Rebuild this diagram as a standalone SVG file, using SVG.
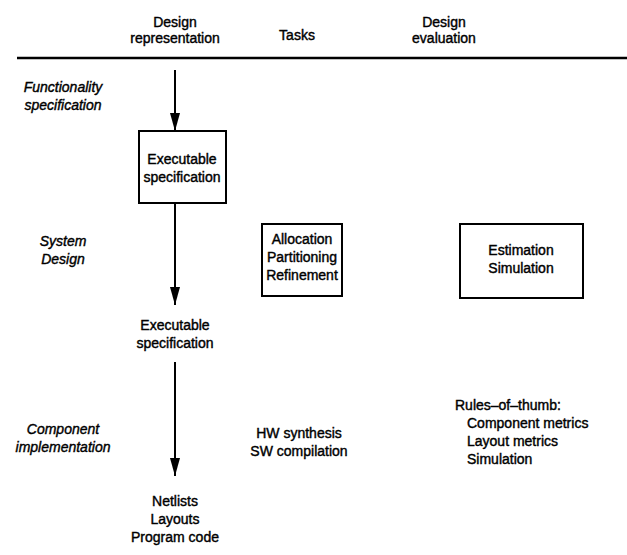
<svg xmlns="http://www.w3.org/2000/svg" width="627" height="555" viewBox="0 0 627 555">
<defs>
<marker id="head" viewBox="0 0 18 10" refX="18" refY="5" markerWidth="18" markerHeight="10" markerUnits="userSpaceOnUse" orient="auto">
<path d="M0,0 L18,5 L0,10 Z" fill="#000"/>
</marker>
<style>
text{font-family:"Liberation Sans",Arial,sans-serif;font-size:14px;fill:#000;stroke:#000;stroke-width:0.4}
.c{text-anchor:middle}
.i{font-style:italic}
.box{fill:none;stroke:#000;stroke-width:2}
.conn{stroke:#000;stroke-width:2;fill:none}
</style>
</defs>
<rect width="627" height="555" fill="#fff"/>
<g id="header">
<text class="c" x="175" y="27">Design</text>
<text class="c" x="175" y="43">representation</text>
<text class="c" x="297" y="40">Tasks</text>
<text class="c" x="444" y="27">Design</text>
<text class="c" x="444" y="43">evaluation</text>
<line x1="17" y1="58" x2="627" y2="58" stroke="#000" stroke-width="2.5"/>
</g>
<g id="stage-labels">
<text class="c i" x="63" y="92">Functionality</text>
<text class="c i" x="63" y="110">specification</text>
<text class="c i" x="63" y="246">System</text>
<text class="c i" x="63" y="264">Design</text>
<text class="c i" x="63" y="434">Component</text>
<text class="c i" x="63" y="452">implementation</text>
</g>
<g id="exec-spec-box">
<rect class="box" x="139" y="131" width="87" height="72"/>
<text class="c" x="182" y="164">Executable</text>
<text class="c" x="182" y="182">specification</text>
</g>
<g id="exec-spec">
<text class="c" x="175" y="330">Executable</text>
<text class="c" x="175" y="348">specification</text>
</g>
<g id="outputs">
<text class="c" x="175" y="506">Netlists</text>
<text class="c" x="175" y="524">Layouts</text>
<text class="c" x="175" y="542">Program code</text>
</g>
<g id="tasks-box">
<rect class="box" x="262" y="224" width="80" height="72"/>
<text class="c" x="302" y="244">Allocation</text>
<text class="c" x="302" y="262">Partitioning</text>
<text class="c" x="302" y="280">Refinement</text>
</g>
<g id="eval-box">
<rect class="box" x="460" y="224" width="123" height="74"/>
<text class="c" x="521" y="255">Estimation</text>
<text class="c" x="521" y="273">Simulation</text>
</g>
<g id="impl-tasks">
<text class="c" x="299" y="438">HW synthesis</text>
<text class="c" x="299" y="456">SW compilation</text>
</g>
<g id="rules">
<text x="455" y="410">Rules–of–thumb:</text>
<text x="467" y="428">Component metrics</text>
<text x="467" y="446">Layout metrics</text>
<text x="467" y="464">Simulation</text>
</g>
<g id="connectors">
<line class="conn" x1="175" y1="70" x2="175" y2="131" marker-end="url(#head)"/>
<line class="conn" x1="175" y1="203" x2="175" y2="305" marker-end="url(#head)"/>
<line class="conn" x1="175" y1="362" x2="175" y2="476" marker-end="url(#head)"/>
</g>
</svg>
